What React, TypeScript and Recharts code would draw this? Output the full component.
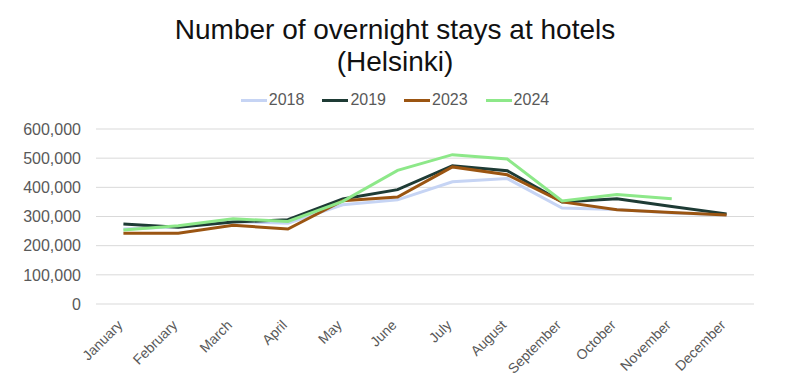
import React from "react";
import { LineChart, Line, XAxis, YAxis, CartesianGrid } from "recharts";

const months = ["January", "February", "March", "April", "May", "June", "July", "August", "September", "October", "November", "December"];
const stays2018 = [257000, 265000, 283000, 277000, 340000, 357000, 419000, 430000, 329000, 324000, 312000, 305000];
const stays2019 = [274000, 263000, 281000, 289000, 360000, 392000, 474000, 457000, 350000, 361000, 334000, 309000];
const stays2023 = [243000, 243000, 270000, 257000, 354000, 367000, 470000, 443000, 350000, 323000, 314000, 305000];
const stays2024 = [254000, 268000, 292000, 283000, 352000, 458000, 512000, 497000, 353000, 375000, 361000, null];
const yTicks = [0, 100000, 200000, 300000, 400000, 500000, 600000];

const series = [
  { key: "2018", values: stays2018, color: "#c6d4f4" },
  { key: "2019", values: stays2019, color: "#1e3b35" },
  { key: "2023", values: stays2023, color: "#9b5512" },
  { key: "2024", values: stays2024, color: "#8de889" },
];

const data = months.map((m, i) => {
  const row: Record<string, any> = { month: m };
  series.forEach((s) => {
    row[s.key] = s.values[i];
  });
  return row;
});

const FONT = "'Liberation Sans', Arial, sans-serif";

const XTick = (props: any) => {
  const { x, y, payload } = props;
  return (
    <g transform={`translate(${x},${y + 20})`}>
      <text x={0} y={0} textAnchor="end" transform="rotate(-45)" fill="#595959" fontSize={14} fontFamily={FONT}>
        {payload.value}
      </text>
    </g>
  );
};

const fmt = (v: number) => v.toLocaleString("en-US");

export default function App() {
  return (
    <div style={{ position: "absolute", left: 0, top: 0, width: 790, height: 390, background: "#fff", fontFamily: FONT }}>
      <div style={{ position: "absolute", left: 0, top: 14, width: 790, textAlign: "center", fontSize: 28, lineHeight: "32px", color: "#111" }}>
        <div>Number of overnight stays at hotels</div>
        <div>(Helsinki)</div>
      </div>
      <div style={{ position: "absolute", left: 0, top: 90, width: 790, display: "flex", justifyContent: "center", fontSize: 16, lineHeight: "20px", color: "#595959" }}>
        {series.map((s, i) => (
          <div key={s.key} style={{ display: "flex", alignItems: "center", marginRight: i < series.length - 1 ? 18 : 0 }}>
            <span style={{ display: "inline-block", width: 26, height: 3, background: s.color, marginRight: 2 }} />
            <span>{s.key}</span>
          </div>
        ))}
      </div>
      <LineChart width={790} height={390} data={data} margin={{ top: 129, right: 36, left: 16, bottom: 6 }}>
        <CartesianGrid vertical={false} stroke="#d9d9d9" strokeWidth={1} />
        <XAxis dataKey="month" scale="band" axisLine={false} tickLine={false} tickSize={0} tick={<XTick />} interval={0} height={80} />
        <YAxis
          domain={[0, 600000]}
          ticks={yTicks}
          axisLine={false}
          tickLine={false}
          tickSize={0}
          tickMargin={15}
          width={80}
          tickFormatter={fmt}
          tick={{ fill: "#595959", fontSize: 16, fontFamily: FONT }}
        />
        {series.map((s) => (
          <Line
            key={s.key}
            dataKey={s.key}
            stroke={s.color}
            strokeWidth={3}
            dot={false}
            activeDot={false}
            isAnimationActive={false}
            connectNulls={false}
          />
        ))}
      </LineChart>
    </div>
  );
}
